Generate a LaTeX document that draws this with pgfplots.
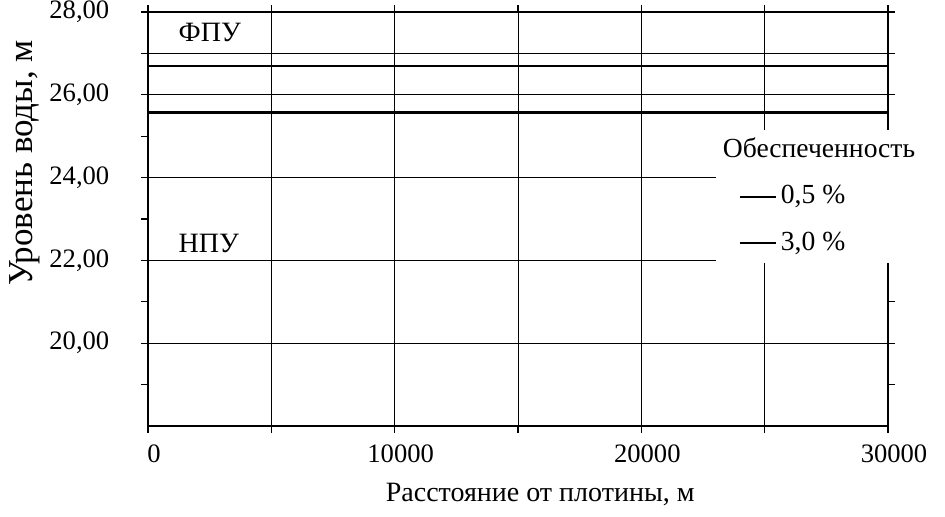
\documentclass[border=0pt]{standalone}
\usepackage{fontspec}
\setmainfont{Liberation Serif}
\usepackage{pgfplots}
\pgfplotsset{compat=1.18}
\begin{document}
\fontsize{14}{16}\selectfont
\begin{tikzpicture}[font=\fontsize{14}{16}\selectfont]
\useasboundingbox (0,0) rectangle (472.5pt,258.5pt);
\begin{axis}[
  at={(74pt,45.5pt)}, anchor=south west,
  scale only axis, width=370pt, height=207pt,
  xmin=0, xmax=30000, ymin=18, ymax=28,
  xtick={0,10000,20000,30000}, minor xtick={5000,15000,25000},
  ytick={20,22,24,26,28}, minor ytick={19,21,23,25,27},
  scaled x ticks=false,
  xmajorgrids, xminorgrids, ymajorgrids,
  major grid style={black, line width=0.5pt},
  minor grid style={black, line width=0.4pt},
  tick align=outside, major tick length=3.5pt, minor tick length=3.5pt,
  tick style={black, line width=0.6pt},
  axis line style={black, line width=0.7pt},
  /pgf/number format/assume math mode=true,
  yticklabel style={/pgf/number format/fixed, /pgf/number format/fixed zerofill, /pgf/number format/precision=2, /pgf/number format/use comma, xshift=-11pt},
  xticklabel style={/pgf/number format/fixed, /pgf/number format/set thousands separator={}, xshift=3pt, yshift=-1pt},
  every tick label/.append style={font=\fontsize{13.3}{15}\selectfont},
  xlabel={Расстояние от плотины, м},
  ylabel={Уровень воды, м},
  xlabel style={at={(axis description cs:0.53,-0.165)}, anchor=center},
  ylabel style={at={(axis description cs:-0.166,0.635)}, anchor=center, rotate=0, font=\fontsize{17.5}{19}\selectfont},
  legend style={at={(axis cs:23000,25.17)}, anchor=north west, draw=none, fill=white,
    font=\fontsize{13.8}{15.5}\selectfont, row sep=8pt, inner xsep=11.5pt, inner ysep=2pt},
  legend cell align=left,
  legend image code/.code={\draw[#1] (0pt,0pt) -- (12pt,0pt); \path (0pt,0pt) -- (18pt,0pt);},
]
\addlegendimage{empty legend}
\addlegendentry{\hspace{-29pt}Обеспеченность}
\addplot[black, line width=1.1pt] coordinates {(0,26.70) (30000,26.70)};
\addlegendentry{0,5 \%}
\addplot[black, line width=1.1pt] coordinates {(0,25.57) (30000,25.57)};
\addlegendentry{3,0 \%}
\addplot[black, line width=0.6pt, forget plot] coordinates {(0,27) (30000,27)};
\node[anchor=west] at (axis cs:850,27.5) {ФПУ};
\node[anchor=west] at (axis cs:850,22.42) {НПУ};
\end{axis}
\end{tikzpicture}
\end{document}
